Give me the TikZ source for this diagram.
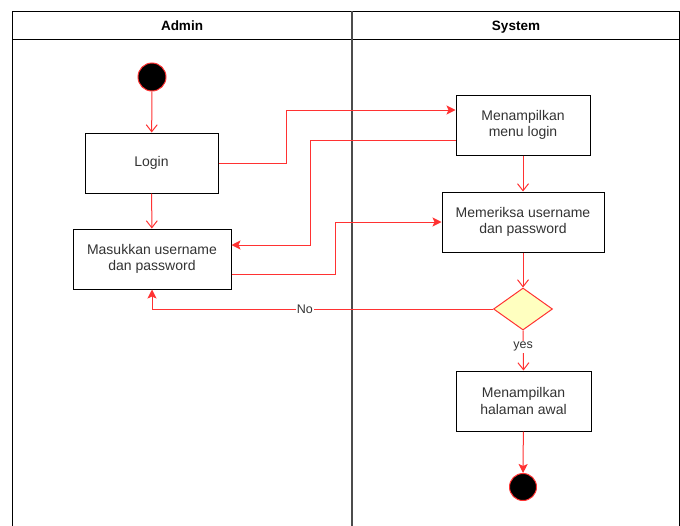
\documentclass[tikz,border=0pt]{standalone}
\usepackage{fontspec}
\setmainfont{Liberation Sans}
\usetikzlibrary{arrows.meta,shapes.geometric}
\definecolor{lred}{RGB}{255,50,50}
\definecolor{txt}{RGB}{51,51,51}
\definecolor{dfill}{RGB}{255,255,192}
\tikzset{
  act/.style={draw=black, line width=1pt, fill=white, text=txt, align=center,
    font=\fontsize{14}{16.5}\selectfont, inner sep=2pt},
  dot/.style={circle, draw=lred, fill=black, line width=1pt, inner sep=0pt},
  conn/.style={draw=lred, line width=1pt},
  op/.style={conn, -{Straight Barb[length=7pt,width=11pt,line width=1pt]}},
  fl/.style={conn, -{Stealth[length=9pt,width=9pt,inset=2pt]}},
  lbl/.style={fill=white, text=txt, font=\fontsize{12.5}{14}\selectfont, inner sep=1pt},
  hdr/.style={font=\bfseries\fontsize{13.5}{15}\selectfont, text=black, anchor=base}
}
\begin{document}
\begin{tikzpicture}[x=1pt,y=-1pt]
\useasboundingbox (0,0) rectangle (680,525);
\clip (0,0) rectangle (680,525);
% swimlanes
\draw[black, line width=1pt] (12,11) rectangle (679,540);
\draw[black, line width=1pt] (12,39) -- (679,39);
\draw[black!70, line width=2pt] (352,11) -- (352,540);
\node[hdr] (hA) at (182,30) {Admin};
\node[hdr] (hS) at (516,30) {System};
% nodes
\node[dot, minimum size=28pt] (start) at (152,77) {};
\node[act, minimum width=133pt, minimum height=60pt] (login) at (151.5,163) {Login};
\node[act, minimum width=158pt, minimum height=60pt] (masuk) at (152,259) {Masukkan username\\dan password};
\node[act, minimum width=134pt, minimum height=60pt] (menu) at (523,125) {Menampilkan\\menu login};
\node[act, minimum width=162pt, minimum height=60pt] (cek) at (523,222) {Memeriksa username\\dan password};
\node[diamond, draw=lred, fill=dfill, line width=1pt, inner sep=0pt, minimum width=59pt, minimum height=42pt] (dia) at (523,309) {};
\node[act, minimum width=135pt, minimum height=60pt] (awal) at (523.5,401) {Menampilkan\\halaman awal};
\node[dot, minimum size=27pt] (end) at (523,487) {};
% connectors
\draw[op] (start) -- (login);
\draw[op] (login) -- (masuk);
\draw[fl] (login.east) -- ++(68,0) |- ([yshift=15pt]menu.west);
\draw[fl] ([yshift=-15pt]menu.west) -- (310,140) |- ([yshift=14pt]masuk.east);
\draw[fl] ([yshift=-15pt]masuk.east) -- (335,274) |- (cek.west);
\draw[op] (menu) -- (cek);
\draw[op] (cek) -- (dia);
\draw[fl] (dia.west) -| node[lbl, pos=0.276] (no) {No} (masuk.south);
\draw[op] (dia.south) -- node[lbl, pos=0.41] (yes) {yes} (awal.north);
\draw[fl] (awal) -- (end);
\end{tikzpicture}
\end{document}
